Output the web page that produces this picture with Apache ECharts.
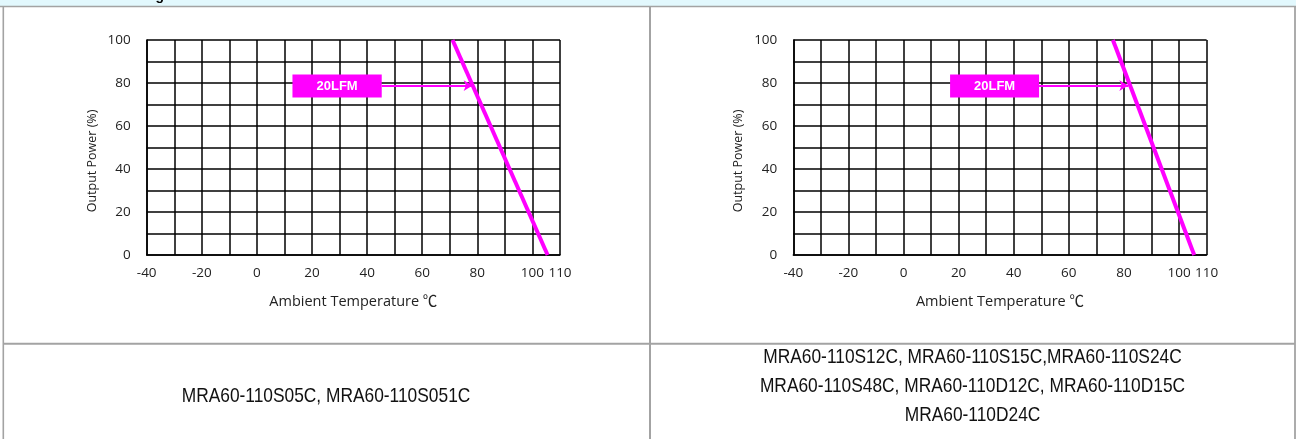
<!DOCTYPE html>
<html>
<head>
<meta charset="utf-8">
<script src="https://cdn.jsdelivr.net/npm/echarts@6/dist/echarts.min.js"></script>
<style>
html,body{margin:0;padding:0;background:#fff;}
#chart{width:1296px;height:439px;}
</style>
</head>
<body>
<div id="chart"></div>
<script>
// ---- data ----
var tempTickLabels = [-40, -20, 0, 20, 40, 60, 80, 100, 110];
var powerTickLabels = [0, 20, 40, 60, 80, 100];
var xName = 'Ambient Temperature \u2103';
var yName = 'Output Power (%)';

// derating curve points [temperature, power]
var curveLeftTemp = [71, 105.5];
var curveLeftPower = [100, 0];
var curveRightTemp = [76, 105.5];
var curveRightPower = [100, 0];

// "20LFM" label box corners and arrow [temperature, power]
var boxLabel = '20LFM';
var boxLeftTemp = [12.9, 45.3];
var boxRightTemp = [16.9, 49.2];
var boxPower = [84, 73.2];
var arrowLeftTemp = [45.3, 78.3];
var arrowRightTemp = [49.2, 81.6];
var arrowPower = 78.8;

var captionLeft = ['MRA60-110S05C, MRA60-110S051C'];
var captionRight = ['MRA60-110S12C, MRA60-110S15C,MRA60-110S24C',
                    'MRA60-110S48C, MRA60-110D12C, MRA60-110D15C',
                    'MRA60-110D24C'];
var headerText = 'Derating';

// ---- chart ----
var MAG = '#ff00ff';
var BORDER = '#a3a3a3';
var TXT = '#222';
var chart = echarts.init(document.getElementById('chart'));

function pairs(xs, ys) {
  return xs.map(function (x, i) { return [x, ys[i]]; });
}

function makeX(gi) {
  return {
    type: 'value', gridIndex: gi, min: -40, max: 110, interval: 10,
    name: xName, nameLocation: 'middle', nameGap: 40,
    nameTextStyle: {fontFamily: "'Open Sans','Noto Sans CJK SC',sans-serif", fontSize: 14.5, color: TXT},
    axisLine: {show: true, onZero: false, lineStyle: {color: '#000', width: 1.5}},
    axisTick: {show: false},
    axisLabel: {
      margin: 11, color: TXT, fontFamily: "'Open Sans',sans-serif", fontSize: 13.5,
      formatter: function (v) { return tempTickLabels.indexOf(v) >= 0 ? String(v) : ''; }
    },
    splitLine: {show: true, lineStyle: {color: '#000', width: 1.5}}
  };
}
function makeY(gi) {
  return {
    type: 'value', gridIndex: gi, min: 0, max: 100, interval: 10,
    name: yName, nameLocation: 'middle', nameGap: 48, nameRotate: 90,
    nameTextStyle: {fontFamily: "'Open Sans',sans-serif", fontSize: 12.5, color: TXT, padding: [0, 27, 0, 0]},
    axisLine: {show: true, onZero: false, lineStyle: {color: '#000', width: 1.5}},
    axisTick: {show: false},
    axisLabel: {
      margin: 16, color: TXT, fontFamily: "'Open Sans',sans-serif", fontSize: 13.5,
      formatter: function (v) { return powerTickLabels.indexOf(v) >= 0 ? String(v) : ''; }
    },
    splitLine: {show: true, lineStyle: {color: '#000', width: 1.5}}
  };
}
function makeSeries(gi, temps, powers, boxTemp, arrowTemp) {
  return {
    type: 'line', xAxisIndex: gi, yAxisIndex: gi, silent: true,
    data: pairs(temps, powers), symbol: 'none', z: 5,
    lineStyle: {color: MAG, width: 4},
    markArea: {
      silent: true,
      itemStyle: {color: MAG, opacity: 1, borderWidth: 0},
      label: {show: true, position: 'inside', color: '#fff', fontWeight: 'bold',
              fontFamily: "'Liberation Sans',Arial,sans-serif", fontSize: 13, formatter: boxLabel},
      data: [[{coord: [boxTemp[0], boxPower[0]]}, {coord: [boxTemp[1], boxPower[1]]}]]
    },
    markLine: {
      silent: true, symbol: ['none', 'arrow'], symbolSize: [8, 9],
      lineStyle: {color: MAG, width: 2, type: 'solid'},
      label: {show: false},
      data: [[{coord: [arrowTemp[0], arrowPower]}, {coord: [arrowTemp[1], arrowPower]}]]
    }
  };
}

function vline(x, y1, y2, w) {
  return {type: 'line', silent: true, z: 100, shape: {x1: x, y1: y1, x2: x, y2: y2}, style: {stroke: BORDER, lineWidth: w}};
}
function hline(y, x1, x2, w) {
  return {type: 'line', silent: true, z: 100, shape: {x1: x1, y1: y, x2: x2, y2: y}, style: {stroke: BORDER, lineWidth: w}};
}
function caption(lines, x, y) {
  return {type: 'text', silent: true, z: 101, x: x, y: y, scaleX: 0.826,
    style: {text: lines.join('\n'), align: 'center', verticalAlign: 'middle', fill: '#111',
            font: "21px 'Liberation Sans', Arial, sans-serif", lineHeight: 29}};
}

var option = {
  animation: false,
  backgroundColor: '#fff',
  grid: [
    {left: 146.7, top: 40, width: 413.3, height: 215},
    {left: 793.3, top: 40, width: 413.3, height: 215}
  ],
  xAxis: [makeX(0), makeX(1)],
  yAxis: [makeY(0), makeY(1)],
  series: [
    makeSeries(0, curveLeftTemp, curveLeftPower, boxLeftTemp, arrowLeftTemp),
    makeSeries(1, curveRightTemp, curveRightPower, boxRightTemp, arrowRightTemp)
  ],
  graphic: [
    {type: 'rect', silent: true, z: 99, shape: {x: 0, y: 0, width: 1296, height: 6}, style: {fill: '#e2f8fd'}},
    {type: 'text', silent: true, z: 101, x: 164, y: -11,
     style: {text: headerText, align: 'right', verticalAlign: 'top', fill: '#000',
             font: "bold 14px 'Liberation Sans', Arial, sans-serif"}},
    hline(6.5, 0, 1296, 1.6),
    vline(3.3, 6, 439, 1.6),
    vline(1295, 6, 439, 1.8),
    vline(650, 6, 439, 2),
    hline(343.7, 3, 1295, 2),
    caption(captionLeft, 326, 396.5),
    caption(captionRight, 972.5, 386.5)
  ]
};
chart.setOption(option);
</script>
</body>
</html>
